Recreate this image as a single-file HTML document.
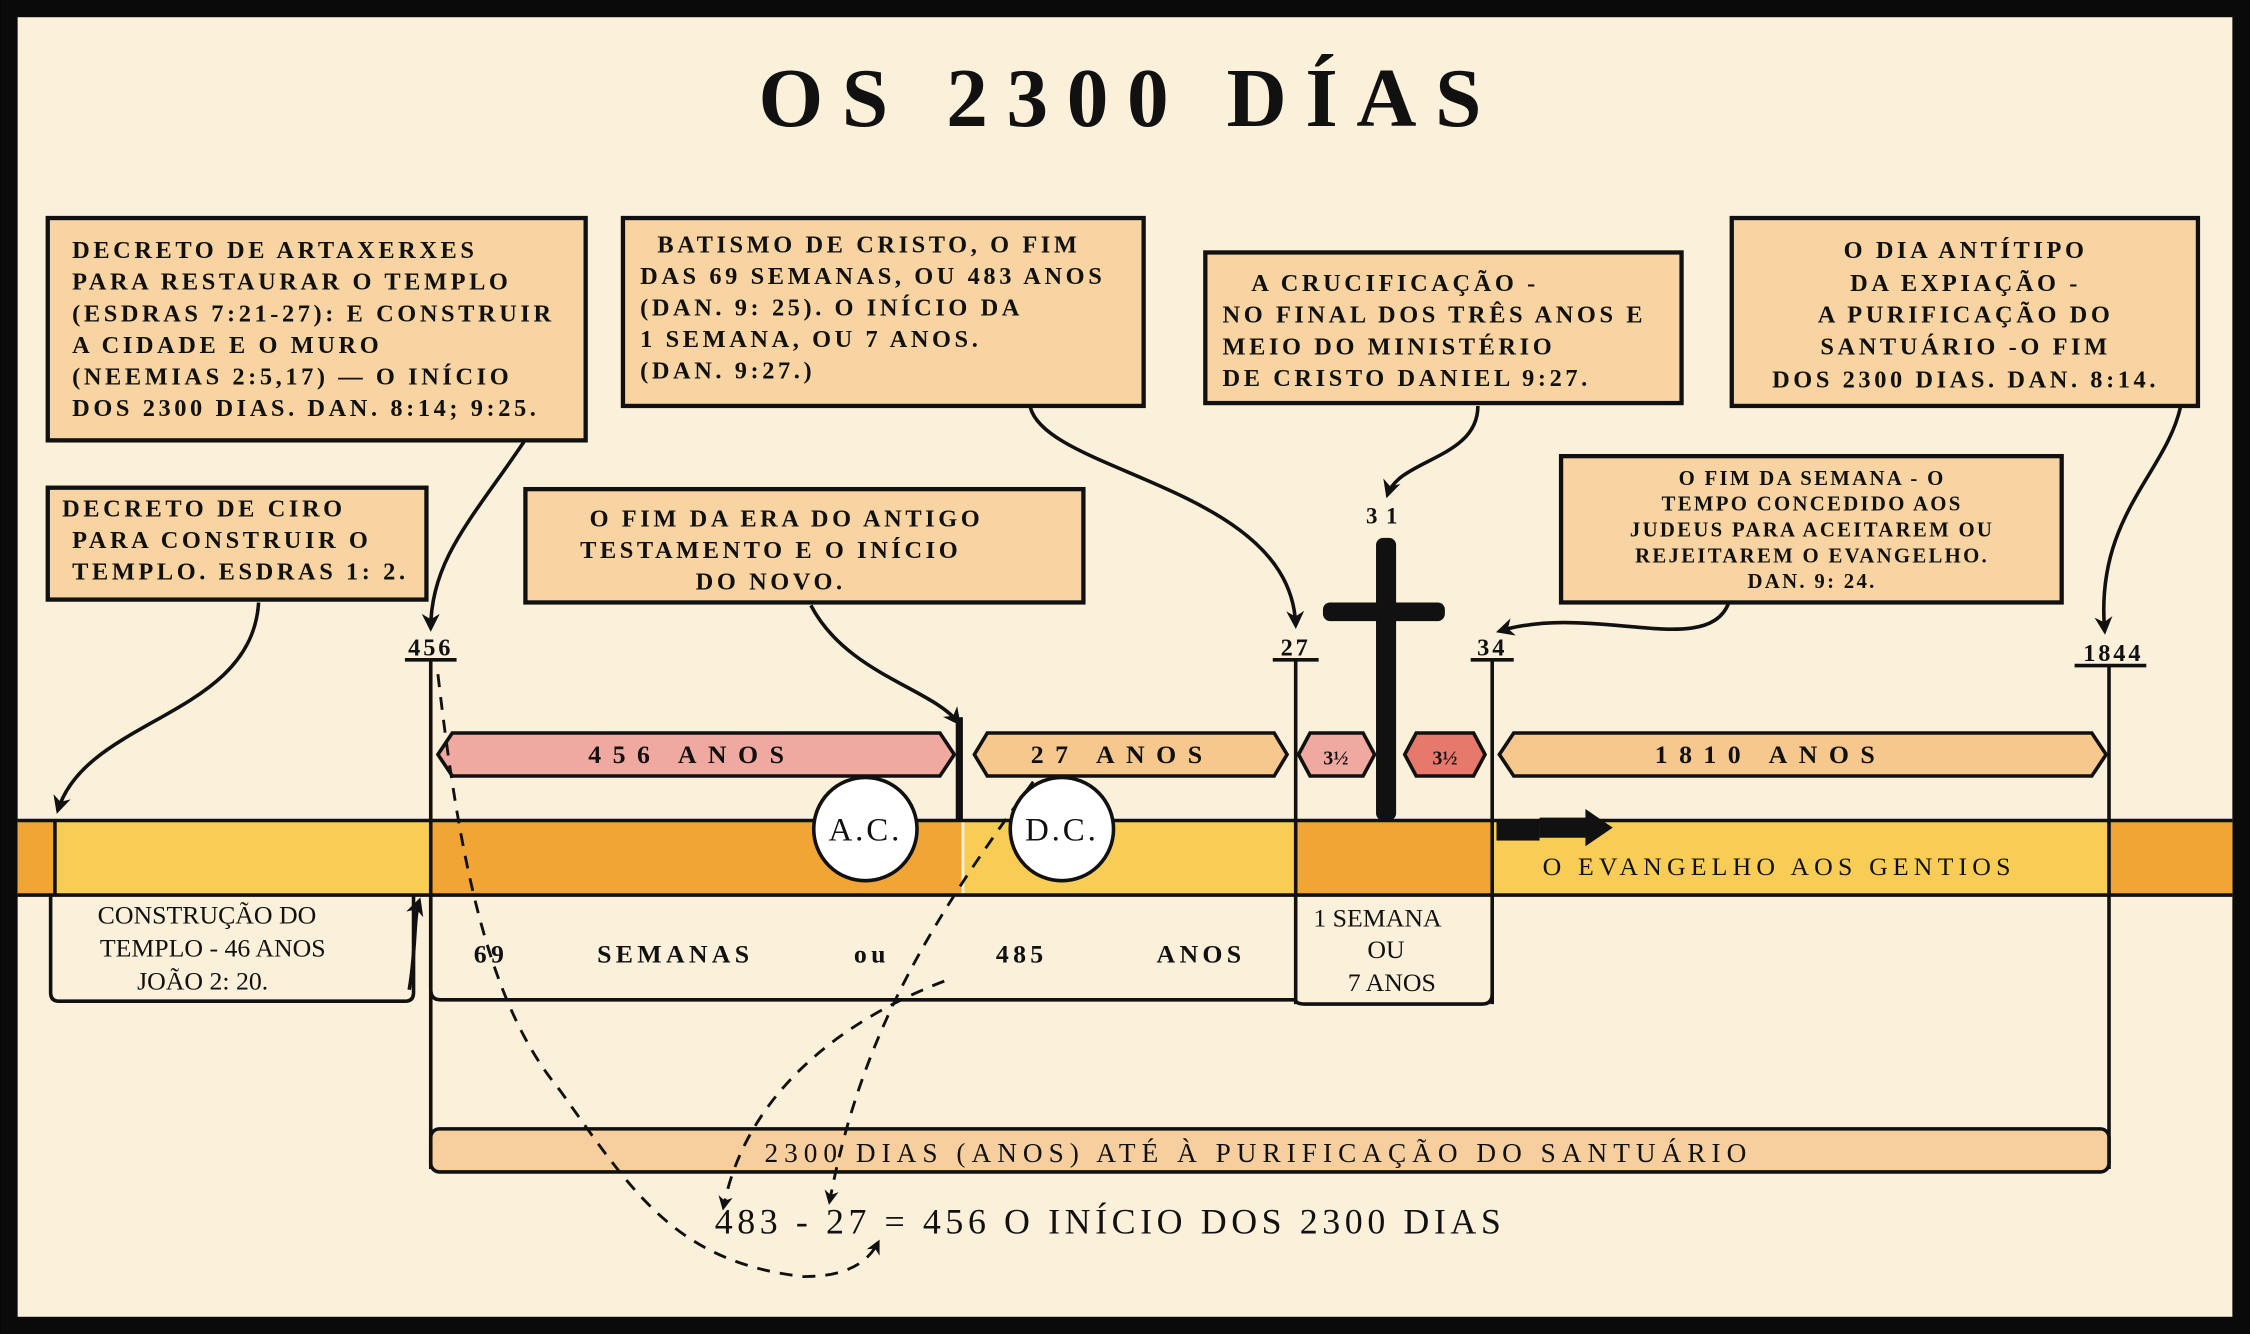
<!DOCTYPE html>
<html><head><meta charset="utf-8">
<style>
html,body{margin:0;padding:0;background:#000;}
svg{display:block;}
text{font-family:"Liberation Serif",serif;fill:#111;}
</style></head>
<body>
<svg width="2250" height="1334" viewBox="0 0 1568 930" xmlns="http://www.w3.org/2000/svg">
<defs>
<marker id="ah" viewBox="0 0 10 10" refX="8" refY="5" markerWidth="5" markerHeight="5" orient="auto"><path d="M0,0 L10,5 L0,10 L3,5z" fill="#111"/></marker>
</defs>
<rect x="0" y="0" width="1568" height="930" fill="#0a0a0a"/>
<rect x="12" y="12" width="1544" height="906" fill="#fbf0da"/>
<text x="787" y="88" font-size="58" font-weight="bold" text-anchor="middle" letter-spacing="13">OS 2300 DÍAS</text>

<g stroke="#111" stroke-width="3" fill="#f7d4a2">
<rect x="33" y="152" width="375" height="155"/>
<rect x="434" y="152" width="363" height="131"/>
<rect x="840" y="176" width="332" height="105"/>
<rect x="1207" y="152" width="325" height="131"/>
<rect x="33" y="340" width="264" height="78"/>
<rect x="366" y="341" width="389" height="79"/>
<rect x="1088" y="318" width="349" height="102"/>
</g>
<g font-size="17" font-weight="bold" letter-spacing="2.5">
<text x="50" y="180">DECRETO DE ARTAXERXES</text>
<text x="50" y="202">PARA RESTAURAR O TEMPLO</text>
<text x="50" y="224">(ESDRAS 7:21-27): E CONSTRUIR</text>
<text x="50" y="246">A CIDADE E O MURO</text>
<text x="50" y="268">(NEEMIAS 2:5,17) — O INÍCIO</text>
<text x="50" y="290">DOS 2300 DIAS. DAN. 8:14; 9:25.</text>
<text x="458" y="176">BATISMO DE CRISTO, O FIM</text>
<text x="446" y="198">DAS 69 SEMANAS, OU 483 ANOS</text>
<text x="446" y="220">(DAN. 9: 25). O INÍCIO DA</text>
<text x="446" y="242">1 SEMANA, OU 7 ANOS.</text>
<text x="446" y="264">(DAN. 9:27.)</text>
<text x="872" y="203">A CRUCIFICAÇÃO -</text>
<text x="852" y="225">NO FINAL DOS TRÊS ANOS E</text>
<text x="852" y="247">MEIO DO MINISTÉRIO</text>
<text x="852" y="269">DE CRISTO DANIEL 9:27.</text>
<g text-anchor="middle">
<text x="1370" y="180">O DIA ANTÍTIPO</text>
<text x="1370" y="203">DA EXPIAÇÃO -</text>
<text x="1370" y="225">A PURIFICAÇÃO DO</text>
<text x="1370" y="247">SANTUÁRIO -O FIM</text>
<text x="1370" y="270">DOS 2300 DIAS.  DAN. 8:14.</text>
<text x="548" y="367">O FIM DA ERA DO ANTIGO</text>
<text x="537" y="389">TESTAMENTO E O INÍCIO</text>
<text x="537" y="411">DO NOVO.</text>
</g>
<text x="43" y="360">DECRETO DE CIRO</text>
<text x="50" y="382">PARA CONSTRUIR O</text>
<text x="50" y="404">TEMPLO. ESDRAS 1: 2.</text>
</g>
<g font-size="14.5" font-weight="bold" text-anchor="middle" letter-spacing="1.6">
<text x="1263" y="338">O FIM DA SEMANA - O</text>
<text x="1263" y="356">TEMPO CONCEDIDO AOS</text>
<text x="1263" y="374">JUDEUS PARA ACEITAREM OU</text>
<text x="1263" y="392">REJEITAREM O EVANGELHO.</text>
<text x="1263" y="410">DAN. 9: 24.</text>
</g>

<!-- main band -->
<rect x="12" y="572" width="26" height="52" fill="#f0a535"/>
<rect x="38" y="572" width="262" height="52" fill="#f8cd55"/>
<rect x="300" y="572" width="370" height="52" fill="#f0a535"/>
<rect x="672" y="572" width="231" height="52" fill="#f8cd55"/>
<rect x="903" y="572" width="137" height="52" fill="#f0a535"/>
<rect x="1040" y="572" width="430" height="52" fill="#f8cd55"/>
<rect x="1470" y="572" width="86" height="52" fill="#f0a535"/>
<g stroke="#111" stroke-width="2.5">
<line x1="12" y1="572" x2="1556" y2="572"/>
<line x1="12" y1="624" x2="1556" y2="624"/>
<line x1="38" y1="572" x2="38" y2="624"/>
<line x1="300" y1="460" x2="300" y2="815"/>
<line x1="903" y1="460" x2="903" y2="700"/>
<line x1="1040" y1="460" x2="1040" y2="700"/>
<line x1="1470" y1="465" x2="1470" y2="815"/>
<line x1="282" y1="460" x2="318" y2="460"/>
<line x1="887" y1="460" x2="919" y2="460"/>
<line x1="1025" y1="460" x2="1055" y2="460"/>
<line x1="1446" y1="464" x2="1496" y2="464"/>
</g>
<circle cx="603" cy="578" r="36" fill="#fff" stroke="#111" stroke-width="2.5"/>
<circle cx="740" cy="578" r="36" fill="#fff" stroke="#111" stroke-width="2.5"/>
<text x="603" y="586" font-size="23" text-anchor="middle" letter-spacing="2">A.C.</text>
<text x="740" y="586" font-size="23" text-anchor="middle" letter-spacing="2">D.C.</text>
<rect x="666" y="500" width="5" height="72" fill="#111"/>

<!-- arrow bars -->
<g stroke="#111" stroke-width="2.5">
<polygon points="315,511 655,511 665,526 655,541 315,541 305,526" fill="#f0a9a0"/>
<polygon points="688,511 888,511 897,526 888,541 688,541 679,526" fill="#f6c88e"/>
<polygon points="913,511 950,511 958,526 950,541 913,541 905,526" fill="#f0a9a0"/>
<polygon points="987,511 1027,511 1035,526 1027,541 987,541 979,526" fill="#e6786c"/>
<polygon points="1055,511 1458,511 1468,526 1458,541 1055,541 1045,526" fill="#f6c88e"/>
</g>
<g font-size="18" font-weight="bold" text-anchor="middle" letter-spacing="8">
<text x="482" y="532">456   ANOS</text>
<text x="782" y="532">27 ANOS</text>
<text x="1234" y="532">1810   ANOS</text>
</g>
<text x="931" y="533" font-size="14" font-weight="bold" text-anchor="middle">3½</text>
<text x="1007" y="533" font-size="14" font-weight="bold" text-anchor="middle">3½</text>

<!-- cross -->
<rect x="959" y="375" width="14" height="197" rx="5" fill="#111"/>
<rect x="922" y="420" width="85" height="13" rx="5" fill="#111"/>
<text x="966" y="365" font-size="16" font-weight="bold" text-anchor="middle" letter-spacing="6">31</text>

<g font-size="17" font-weight="bold" text-anchor="middle" letter-spacing="2">
<text x="300" y="457">456</text>
<text x="903" y="457">27</text>
<text x="1040" y="457">34</text>
<text x="1473" y="461">1844</text>
</g>

<!-- evangelho arrow -->
<rect x="1043" y="572" width="30" height="14" fill="#111"/>
<polygon points="1073,570 1105,570 1105,564 1124,577 1105,590 1105,584 1073,584" fill="#111"/>
<text x="1240" y="610" font-size="18" text-anchor="middle" letter-spacing="3.6">O EVANGELHO AOS GENTIOS</text>

<!-- lower brackets -->
<g stroke="#111" stroke-width="2.5" fill="none">
<path d="M35,624 V692 Q35,698 41,698 H282 Q288,698 288,692 V624"/>
<path d="M300,624 V690 Q300,697 307,697 H903"/>
<path d="M903,697 Q903,700 910,700 H1033 Q1040,700 1040,693"/>
</g>
<g font-size="18" text-anchor="middle">
<text x="144" y="644">CONSTRUÇÃO DO</text>
<text x="148" y="667">TEMPLO - 46 ANOS</text>
<text x="141" y="690">JOÃO 2: 20.</text>
<text x="960" y="646">1 SEMANA</text>
<text x="966" y="668">OU</text>
<text x="970" y="691">7 ANOS</text>
</g>
<g font-size="18" font-weight="bold" letter-spacing="3">
<text x="330" y="671">69</text>
<text x="416" y="671">SEMANAS</text>
<text x="595" y="671">ou</text>
<text x="694" y="671">485</text>
<text x="806" y="671">ANOS</text>
</g>

<!-- bottom bar -->
<rect x="300" y="787" width="1170" height="30" rx="6" fill="#f7cf9e" stroke="#111" stroke-width="2.5"/>
<text x="877" y="810" font-size="19" text-anchor="middle" letter-spacing="4.2">2300 DIAS (ANOS) ATÉ À PURIFICAÇÃO DO SANTUÁRIO</text>
<text x="498" y="860" font-size="25" letter-spacing="3.2">483 - 27 = 456  O INÍCIO DOS 2300 DIAS</text>

<!-- connectors -->
<g stroke="#111" stroke-width="2.5" fill="none" marker-end="url(#ah)">
<path d="M180,420 C175,500 60,500 40,565"/>
<path d="M365,308 C330,360 300,390 300,438"/>
<path d="M565,422 C590,470 650,480 668,504"/>
<path d="M718,284 C730,330 900,340 903,436"/>
<path d="M1030,283 C1030,320 975,320 967,345"/>
<path d="M1205,420 C1190,460 1110,420 1045,440"/>
<path d="M1520,283 C1510,330 1460,360 1467,440"/>
<path d="M285,690 C290,660 288,640 292,628"/>
</g>
<g stroke="#111" stroke-width="2" fill="none" stroke-dasharray="9,7">
<path d="M305,470 C320,600 340,700 390,760 C440,830 470,880 560,890 C590,890 605,880 612,866" marker-end="url(#ah)"/>
<path d="M720,545 C650,640 600,720 578,838" marker-end="url(#ah)"/>
<path d="M658,684 C590,710 520,760 504,842" marker-end="url(#ah)"/>
</g>
</svg>
</body></html>
